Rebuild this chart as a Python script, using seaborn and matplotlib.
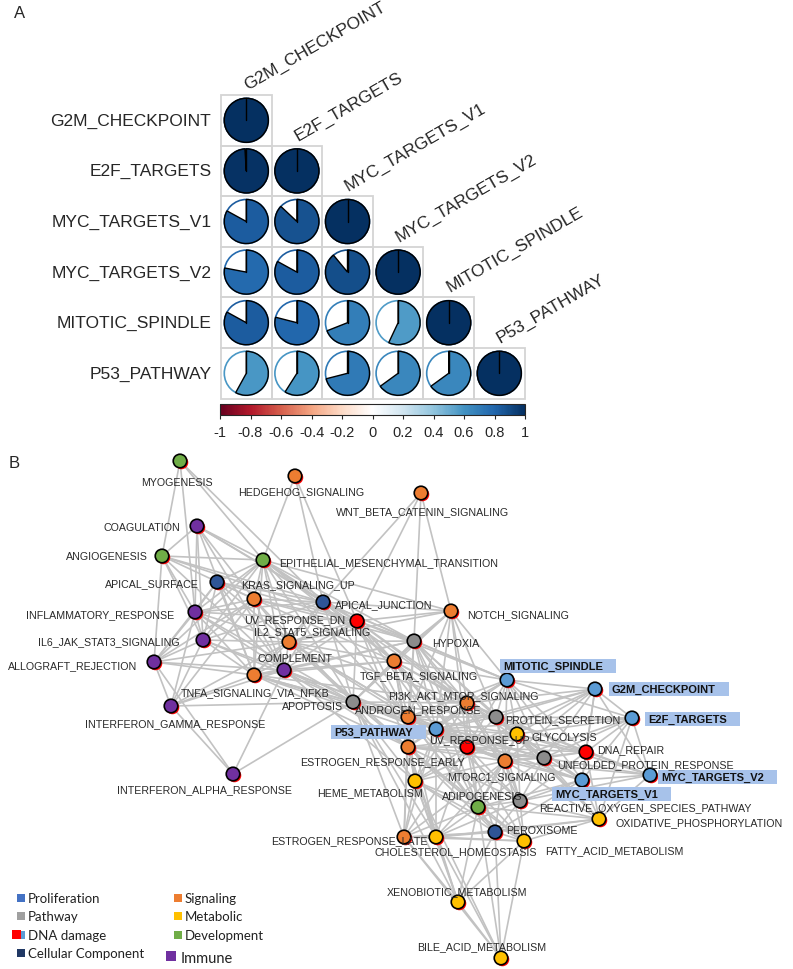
import numpy as np
import pandas as pd
import matplotlib
matplotlib.use("Agg")
import matplotlib.pyplot as plt
from matplotlib.patches import Wedge, Circle, Rectangle
from matplotlib.collections import LineCollection
from matplotlib.colors import ListedColormap, Normalize
import seaborn as sns

sns.set_style("white")
plt.rcParams['font.family'] = ['Liberation Sans', 'DejaVu Sans']

# ---------------- panel A data ----------------
terms = ["G2M_CHECKPOINT", "E2F_TARGETS", "MYC_TARGETS_V1",
         "MYC_TARGETS_V2", "MITOTIC_SPINDLE", "P53_PATHWAY"]
# lower triangle, row by row
corr_rows = [
    [1.00],
    [0.99, 1.00],
    [0.83, 0.87, 1.00],
    [0.78, 0.83, 0.89, 1.00],
    [0.83, 0.79, 0.69, 0.57, 1.00],
    [0.58, 0.59, 0.71, 0.65, 0.65, 1.00],
]
cbar_ticks = [-1, -0.8, -0.6, -0.4, -0.2, 0, 0.2, 0.4, 0.6, 0.8, 1]
cbar_labels = ["-1", "-0.8", "-0.6", "-0.4", "-0.2", "0", "0.2", "0.4", "0.6", "0.8", "1"]

# ---------------- panel B data ----------------
node_key = ["MYO", "HH", "WNT", "COAG", "ANG", "EMT", "ASUR", "KRAS", "AJ", "NOTCH",
            "INFL", "UVDN", "IL2", "IL6", "HYP", "TGF", "ALLO", "COMP", "TNFA", "MIT",
            "G2M", "PI3K", "APOP", "IFNG", "AND", "PSEC", "E2F", "P53", "GLY", "UVUP",
            "DNAR", "EE", "UPR", "MTOR", "IFNA", "MYC2", "HEME", "MYC1", "ADIP", "ROS",
            "OXP", "PER", "EL", "CHOL", "FA", "XEN", "BILE"]
node_name = ["MYOGENESIS", "HEDGEHOG_SIGNALING", "WNT_BETA_CATENIN_SIGNALING", "COAGULATION",
             "ANGIOGENESIS", "EPITHELIAL_MESENCHYMAL_TRANSITION", "APICAL_SURFACE",
             "KRAS_SIGNALING_UP", "APICAL_JUNCTION", "NOTCH_SIGNALING", "INFLAMMATORY_RESPONSE",
             "UV_RESPONSE_DN", "IL2_STAT5_SIGNALING", "IL6_JAK_STAT3_SIGNALING", "HYPOXIA",
             "TGF_BETA_SIGNALING", "ALLOGRAFT_REJECTION", "COMPLEMENT", "TNFA_SIGNALING_VIA_NFKB",
             "MITOTIC_SPINDLE", "G2M_CHECKPOINT", "PI3K_AKT_MTOR_SIGNALING", "APOPTOSIS",
             "INTERFERON_GAMMA_RESPONSE", "ANDROGEN_RESPONSE", "PROTEIN_SECRETION", "E2F_TARGETS",
             "P53_PATHWAY", "GLYCOLYSIS", "UV_RESPONSE_UP", "DNA_REPAIR", "ESTROGEN_RESPONSE_EARLY",
             "UNFOLDED_PROTEIN_RESPONSE", "MTORC1_SIGNALING", "INTERFERON_ALPHA_RESPONSE",
             "MYC_TARGETS_V2", "HEME_METABOLISM", "MYC_TARGETS_V1", "ADIPOGENESIS",
             "REACTIVE_OXYGEN_SPECIES_PATHWAY", "OXIDATIVE_PHOSPHORYLATION", "PEROXISOME",
             "ESTROGEN_RESPONSE_LATE", "CHOLESTEROL_HOMEOSTASIS", "FATTY_ACID_METABOLISM",
             "XENOBIOTIC_METABOLISM", "BILE_ACID_METABOLISM"]
node_group = ["Development", "Signaling", "Signaling", "Immune", "Development", "Development",
              "Cellular Component", "Signaling", "Cellular Component", "Signaling", "Immune",
              "DNA damage", "Signaling", "Immune", "Pathway", "Signaling", "Immune", "Immune",
              "Signaling", "Proliferation", "Proliferation", "Signaling", "Pathway", "Immune",
              "Signaling", "Pathway", "Proliferation", "Proliferation", "Metabolic", "DNA damage",
              "DNA damage", "Signaling", "Pathway", "Signaling", "Immune", "Proliferation",
              "Metabolic", "Proliferation", "Development", "Pathway", "Metabolic",
              "Cellular Component", "Signaling", "Metabolic", "Metabolic", "Metabolic", "Metabolic"]
# layout coordinates
node_x = [180, 295, 421, 197, 162, 263, 217, 254, 323, 451, 195, 357, 289, 203, 414, 394, 154,
          284, 254, 507, 595, 467, 353, 171, 408, 496, 632, 436, 517, 467, 586, 408, 544, 505,
          233, 650, 415, 582, 478, 520, 599, 495, 404, 436, 524, 458, 501]
node_y = [462, 477, 494, 527, 557, 561, 583, 600, 603, 612, 613, 622, 643, 641, 642, 662, 663,
          671, 676, 681, 690, 704, 703, 707, 718, 718, 719, 730, 735, 748, 753, 748, 759, 762,
          775, 776, 782, 781, 808, 802, 820, 833, 838, 838, 842, 903, 959]
highlight = ["MIT", "G2M", "E2F", "P53", "MYC1", "MYC2"]

edges = {
    "MYO": "ANG INFL EMT AJ",
    "HH": "EMT AJ UVDN",
    "WNT": "AJ UVDN HYP NOTCH",
    "COAG": "ANG EMT INFL COMP IL6 KRAS AJ UVDN TNFA",
    "ANG": "EMT KRAS AJ UVDN INFL IL6 COMP ALLO",
    "EMT": "KRAS AJ UVDN IL2 COMP TNFA HYP TGF APOP INFL IL6 ALLO ASUR NOTCH AND",
    "ASUR": "KRAS AJ INFL IL2 COMP UVDN TNFA IL6 ALLO",
    "KRAS": "AJ UVDN IL2 COMP TNFA INFL IL6 ALLO APOP TGF HYP IFNG",
    "AJ": "UVDN NOTCH HYP TGF IL2 COMP TNFA APOP MIT PI3K AND INFL IL6",
    "NOTCH": "UVDN IL2 HYP TGF PI3K MIT AND PSEC P53 UVUP APOP",
    "INFL": "IL6 ALLO COMP TNFA IL2 UVDN IFNG APOP",
    "UVDN": "IL2 HYP TGF COMP TNFA APOP PI3K AND P53 EE UVUP MIT GLY",
    "IL2": "IL6 ALLO COMP TNFA HYP TGF APOP IFNG AND PI3K P53 EE UVUP",
    "IL6": "ALLO COMP TNFA IFNG APOP",
    "HYP": "TGF PI3K MIT AND APOP P53 GLY PSEC UVUP MTOR EE COMP TNFA ADIP",
    "TGF": "PI3K AND APOP P53 UVUP COMP TNFA MIT PSEC EE MTOR HEME",
    "ALLO": "COMP TNFA IFNG IFNA",
    "COMP": "TNFA APOP IFNG IFNA EE P53 AND HEME",
    "TNFA": "APOP IFNG P53 EE AND UVUP PI3K",
    "MIT": "G2M E2F PI3K PSEC AND UVUP P53 GLY MYC1 DNAR UPR MTOR",
    "G2M": "E2F MYC2 MYC1 DNAR UPR PSEC GLY MTOR P53 UVUP PI3K",
    "PI3K": "AND APOP P53 PSEC GLY UVUP EE MTOR UPR DNAR ADIP ROS HEME",
    "APOP": "AND P53 EE UVUP IFNG IFNA HEME EL PSEC MTOR XEN CHOL ADIP",
    "IFNG": "IFNA",
    "AND": "P53 PSEC UVUP GLY EE MTOR HEME ADIP PER CHOL EL FA UPR",
    "PSEC": "E2F P53 GLY UVUP DNAR UPR MTOR MYC1 MYC2 ROS OXP",
    "E2F": "MYC2 MYC1 DNAR UPR MTOR OXP GLY P53",
    "P53": "UVUP GLY EE MTOR UPR DNAR HEME ADIP ROS CHOL EL MYC1",
    "GLY": "UVUP DNAR UPR MTOR MYC1 MYC2 ROS OXP ADIP EE HEME",
    "UVUP": "EE DNAR UPR MTOR HEME ADIP ROS PER CHOL EL MYC1 FA",
    "DNAR": "UPR MTOR MYC1 MYC2 OXP ROS",
    "EE": "MTOR HEME ADIP EL CHOL PER FA XEN ROS UPR",
    "UPR": "MTOR MYC1 MYC2 ROS OXP ADIP",
    "MTOR": "MYC1 MYC2 ROS OXP ADIP HEME PER CHOL FA EL",
    "MYC2": "MYC1 OXP ROS",
    "HEME": "ADIP EL CHOL PER FA XEN BILE",
    "MYC1": "ROS OXP PER ADIP",
    "ADIP": "ROS OXP PER EL CHOL FA XEN BILE",
    "ROS": "OXP PER FA CHOL",
    "OXP": "PER FA CHOL",
    "PER": "FA CHOL EL XEN BILE",
    "EL": "CHOL XEN BILE FA",
    "CHOL": "FA XEN BILE",
    "FA": "XEN BILE",
    "XEN": "BILE",
}

group_colors = {"Proliferation": "#5b9bd5", "Pathway": "#8c8c8c", "DNA damage": "#ff0000",
                "Cellular Component": "#2f5597", "Signaling": "#ed7d31", "Metabolic": "#ffc000",
                "Development": "#70ad47", "Immune": "#7030a0"}
legend_names = ["Proliferation", "Pathway", "DNA damage", "Cellular Component",
                "Signaling", "Metabolic", "Development", "Immune"]
legend_colors = ["#4472c4", "#a0a0a0", "#ff0000", "#203864",
                 "#ed7d31", "#ffc000", "#70ad47", "#7030a0"]

# label anchor (x, y, ha) for every node
label_pos = {
    "MYO": (177, 483, "center"), "HH": (301, 492, "center"), "WNT": (423, 512, "center"),
    "COAG": (180, 528, "right"), "ANG": (148, 557, "right"), "EMT": (279, 563, "left"),
    "ASUR": (199, 584, "right"), "KRAS": (241, 585, "left"), "AJ": (335, 605, "left"),
    "NOTCH": (467, 615, "left"), "INFL": (174, 615, "right"), "UVDN": (345, 620, "right"),
    "IL2": (312, 632, "center"), "IL6": (180, 642, "right"), "HYP": (432, 644, "left"),
    "TGF": (419, 676, "center"), "ALLO": (137, 666, "right"), "COMP": (295, 659, "center"),
    "TNFA": (255, 693, "center"), "MIT": (503, 667, "left"), "G2M": (612, 690, "left"),
    "PI3K": (463, 696, "center"), "APOP": (343, 707, "right"), "IFNG": (175, 724, "center"),
    "AND": (418, 710, "center"), "PSEC": (505, 720, "left"), "E2F": (648, 720, "left"),
    "P53": (334, 733, "left"), "GLY": (532, 738, "left"), "UVUP": (479, 740, "center"),
    "DNAR": (597, 750, "left"), "EE": (382, 762, "center"), "UPR": (557, 765, "left"),
    "MTOR": (501, 777, "center"), "IFNA": (204, 790, "center"), "MYC2": (661, 778, "left"),
    "HEME": (370, 793, "center"), "MYC1": (555, 795, "left"), "ADIP": (482, 797, "center"),
    "ROS": (539, 808, "left"), "OXP": (615, 823, "left"), "PER": (506, 831, "left"),
    "EL": (349, 841, "center"), "CHOL": (456, 852, "center"), "FA": (545, 851, "left"),
    "XEN": (457, 892, "center"), "BILE": (482, 947, "center"),
}

W, H = 793, 970
fig = plt.figure(figsize=(W / 100, H / 100), dpi=100)

# ---------------- panel B: network ----------------
axb = fig.add_axes([0, 0, 1, 1])
nodes = pd.DataFrame({"key": node_key, "name": node_name, "group": node_group,
                      "x": node_x, "y": node_y}).set_index("key", drop=False)

pairs = []
for a, nb in edges.items():
    for b in nb.split():
        p = tuple(sorted((a, b)))
        if p not in pairs:
            pairs.append(p)
segs = [[(nodes.at[a, "x"], nodes.at[a, "y"]), (nodes.at[b, "x"], nodes.at[b, "y"])] for a, b in pairs]
axb.add_collection(LineCollection(segs, colors="#c2c2c2", linewidths=1.2, zorder=1))

# small red shadow under each node
axb.scatter(nodes["x"] + 0.6, nodes["y"] + 1.0, s=95, color="red", linewidths=0, zorder=2)
sns.scatterplot(data=nodes, x="x", y="y", hue="group", palette=group_colors, s=95,
                edgecolor="black", linewidth=1.2, legend=False, ax=axb, zorder=3)

texts = {}
for k in node_key:
    lx, ly, ha = label_pos[k]
    bold = k in highlight
    texts[k] = axb.text(lx, ly, nodes.at[k, "name"], ha=ha, va="center",
                        fontsize=8 if bold else 7.7, color="#111111" if bold else "#2a2a2a",
                        fontweight="bold" if bold else "normal", zorder=5)

axb.set_xlim(0, W)
axb.set_ylim(H, 0)
axb.axis("off")

# boxes behind the highlighted labels
fig.canvas.draw()
inv = axb.transData.inverted()
for k in highlight:
    bb = texts[k].get_window_extent()
    (x0, y0), (x1, y1) = inv.transform([(bb.x0, bb.y0), (bb.x1, bb.y1)])
    yc = (y0 + y1) / 2
    axb.add_patch(Rectangle((x0 - 3, yc - 7), (x1 - x0) + 16, 14, facecolor="#a7c2ea",
                            edgecolor="none", zorder=4))

# legend
for i, (nm, col) in enumerate(zip(legend_names, legend_colors)):
    c, r = divmod(i, 4)
    sx = 17 if c == 0 else 174
    sy = 899 + r * 18.4
    size = 8
    tsize = 9.5
    if nm == "Immune":
        sx, sy, size, tsize = 166, 957, 10, 10.5
    if nm == "DNA damage":
        axb.add_patch(Rectangle((12, sy - 4.5), 9, 9, facecolor="#ff0000", edgecolor="none"))
        axb.add_patch(Rectangle((21, sy - 4), 4, 8, facecolor="#5b9bd5", edgecolor="none"))
    else:
        axb.add_patch(Rectangle((sx, sy - size / 2), size, size, facecolor=col, edgecolor="none"))
    axb.text(sx + size + 3 if nm != "Immune" else 181, sy + (2 if nm == "Immune" else 0), nm,
             ha="left", va="center", fontsize=tsize, family=["Lato", "DejaVu Sans"], color="#222222")

fig.text(9 / W, 1 - 463 / H, "B", fontsize=12, ha="left", va="center")
fig.text(14 / W, 1 - 14 / H, "A", fontsize=12, ha="left", va="center")

# ---------------- panel A: correlation pies ----------------
n = len(terms)
mat = np.full((n, n), np.nan)
for i, row in enumerate(corr_rows):
    mat[i, :len(row)] = row
df = pd.DataFrame(mat, index=terms, columns=terms)
mask = np.triu(np.ones((n, n), dtype=bool), k=1)

cmap = sns.blend_palette(["#67001F", "#B2182B", "#D6604D", "#F4A582", "#FDDBC7", "#FFFFFF",
                          "#D1E5F0", "#92C5DE", "#4393C3", "#2166AC", "#053061"], as_cmap=True)
norm = Normalize(-1, 1)

cell = 50.6
axa = fig.add_axes([221 / W, 1 - (96 + n * cell) / H, n * cell / W, n * cell / H])
sns.heatmap(df, mask=mask, cmap=ListedColormap(["white"]), vmin=-1, vmax=1, square=True,
            linewidths=0, cbar=False, xticklabels=False, yticklabels=terms, ax=axa)
axa.tick_params(axis="y", length=0, pad=7, labelsize=12.5, rotation=0)
axa.set_xlabel("")
axa.set_ylabel("")

R = 0.435
for i in range(n):
    for j in range(i + 1):
        r = df.iat[i, j]
        col = cmap(norm(r))
        cx, cy = j + 0.5, i + 0.5
        axa.add_patch(Rectangle((j, i), 1, 1, fill=False, edgecolor="#d4d4d4", lw=1.3,
                                zorder=2, clip_on=False))
        axa.add_patch(Circle((cx, cy), R, fill=False, edgecolor=col, lw=1.2, zorder=3))
        axa.add_patch(Wedge((cx, cy), R, -90, -90 + 360 * r, facecolor=col,
                            edgecolor="black", lw=1.0, zorder=4))
        axa.plot([cx, cx], [cy, cy - R], color="black", lw=1.0, zorder=5)

for j, t in enumerate(terms):
    axa.text(j + 0.55, j - 0.06, t, rotation=30, rotation_mode="anchor", ha="left",
             va="bottom", fontsize=12.5, clip_on=False)

cax = fig.add_axes([220 / W, 1 - 416 / H, 305 / W, 11 / H])
sm = plt.cm.ScalarMappable(norm=norm, cmap=cmap)
cb = fig.colorbar(sm, cax=cax, orientation="horizontal", ticks=cbar_ticks)
cb.ax.set_xticklabels(cbar_labels)
cb.ax.tick_params(length=3, width=0.8, pad=4, labelsize=10.5)
cb.outline.set_linewidth(0.8)

fig.savefig("out.png", dpi=100)
